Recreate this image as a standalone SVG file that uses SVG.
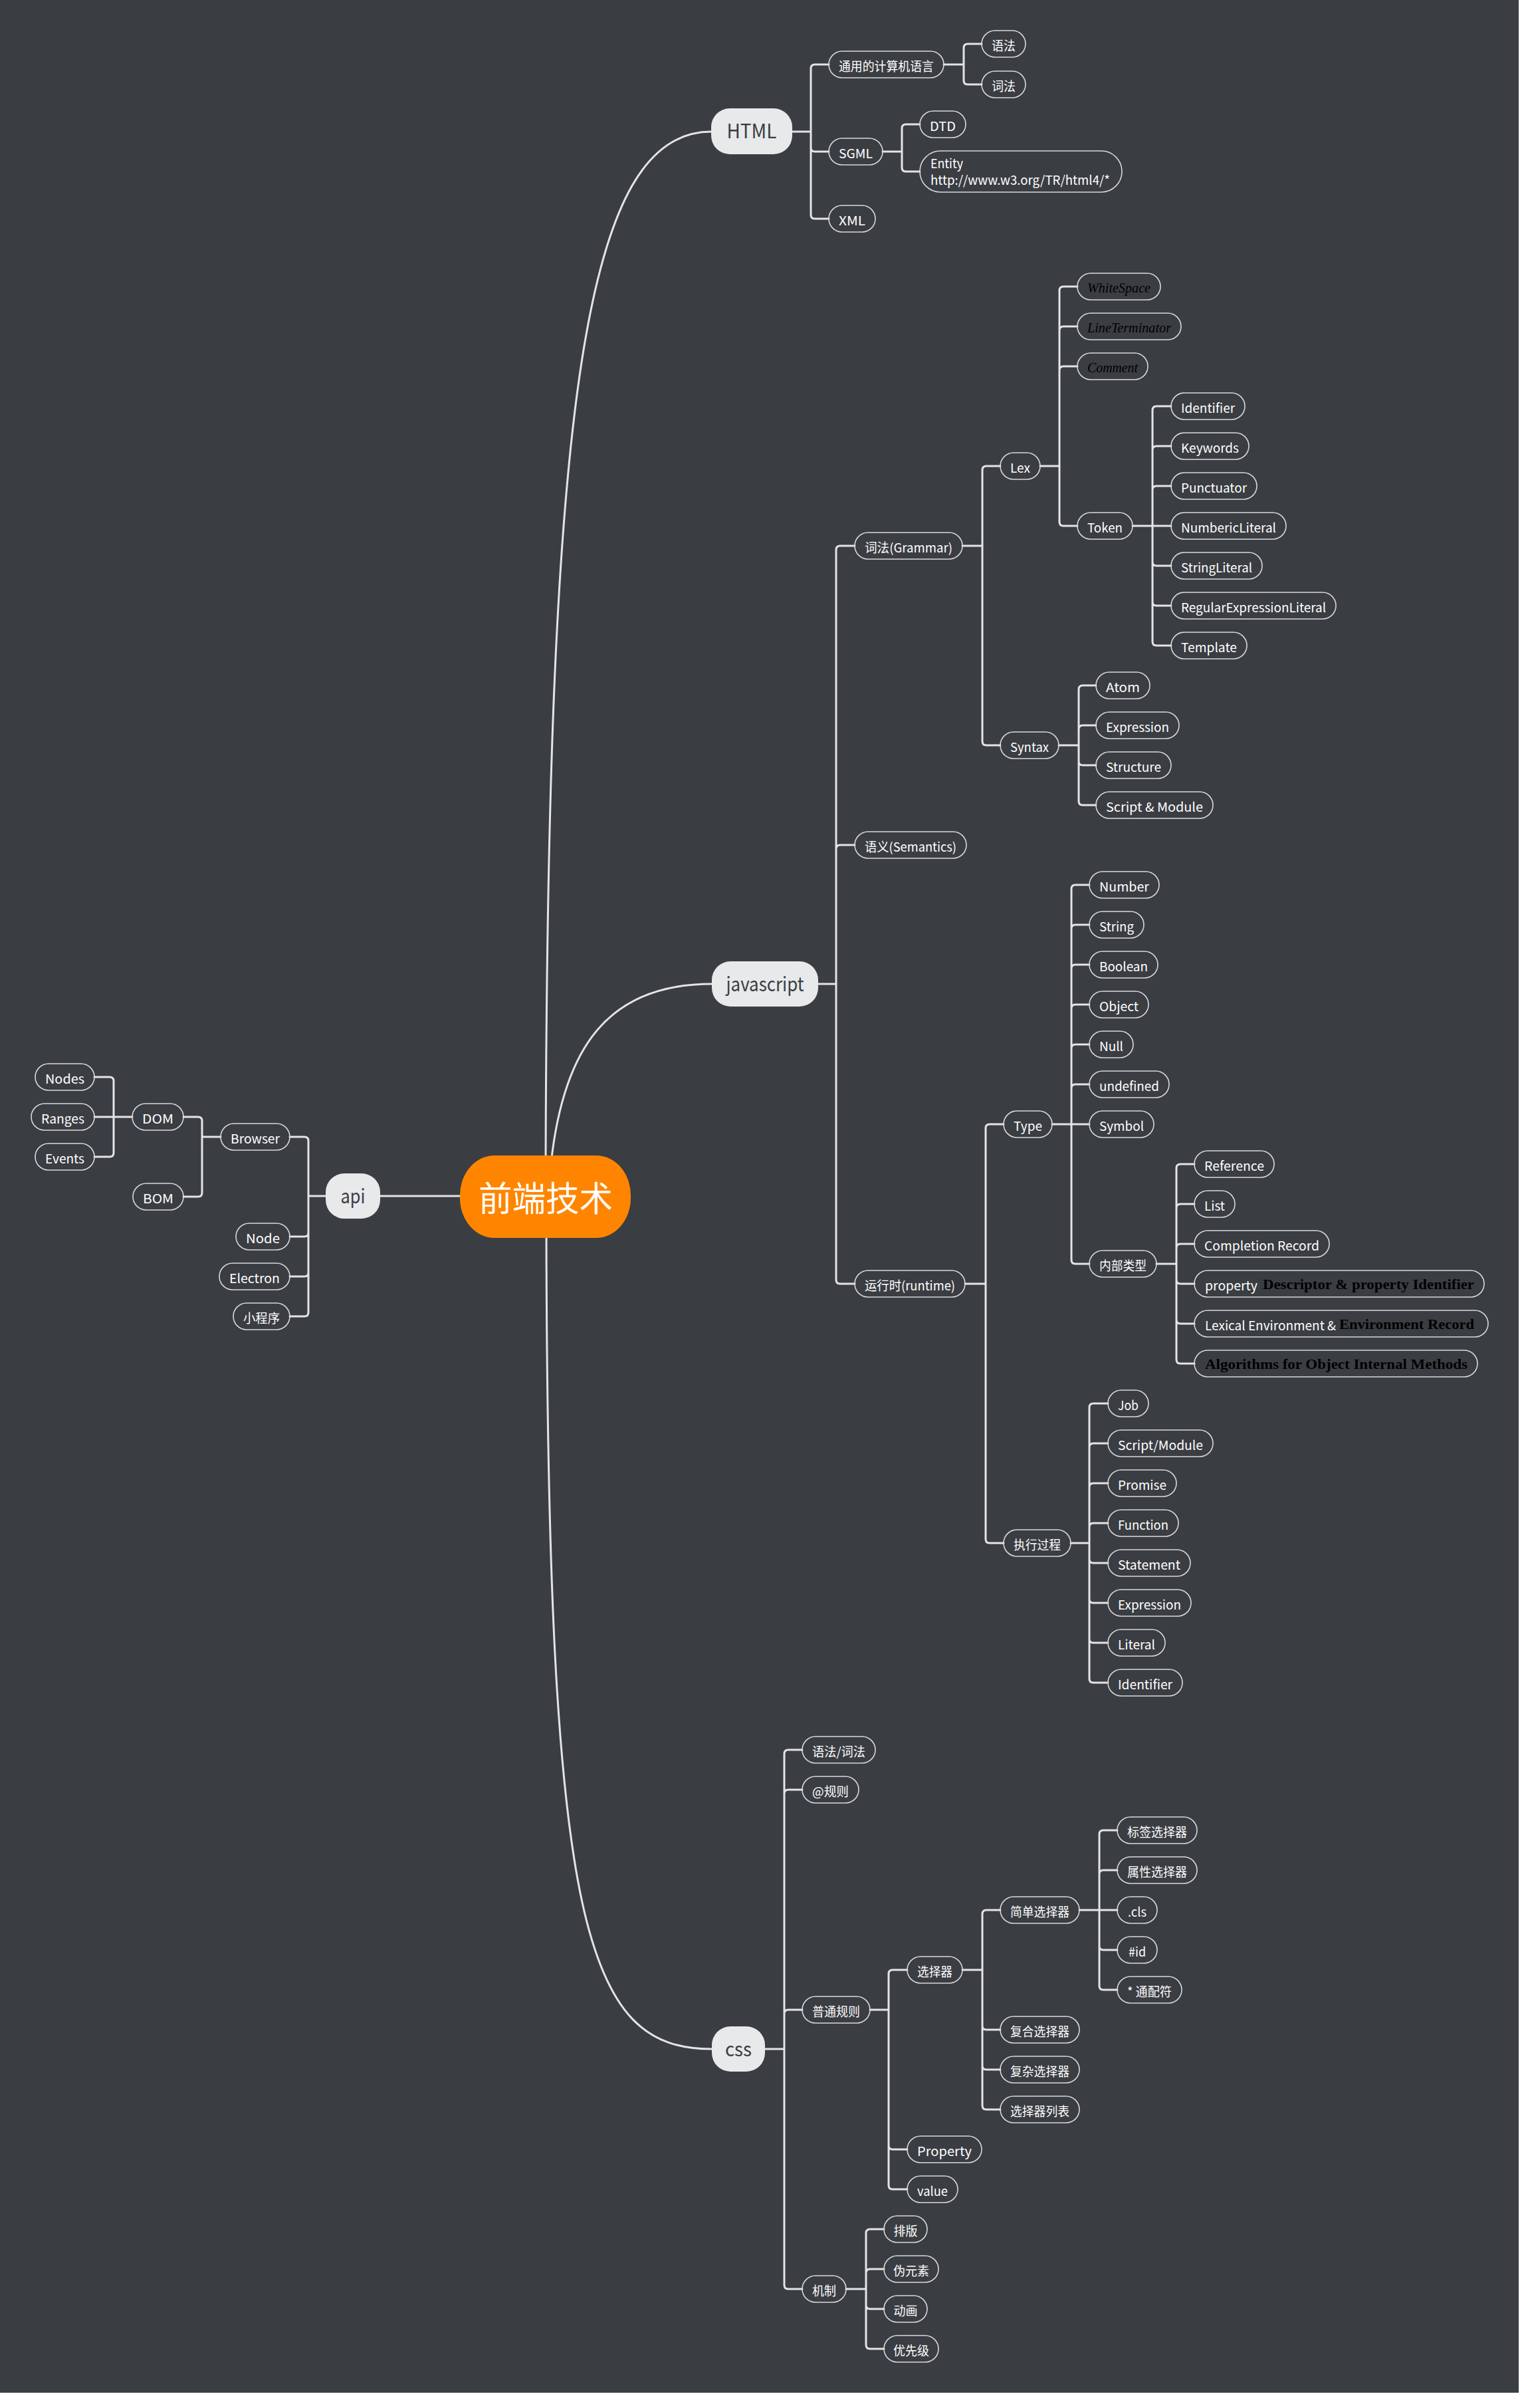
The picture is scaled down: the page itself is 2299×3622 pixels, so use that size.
<svg xmlns="http://www.w3.org/2000/svg" width="2299" height="3622" viewBox="0 0 2299 3622">
<style>
.nd{fill:none;stroke:#d8d9db;stroke-width:1.6}
.mn{fill:#e8e9eb}
.t{font-family:"Noto Sans CJK SC","Noto Sans",sans-serif;font-size:19px;fill:#ffffff;text-anchor:middle}
.ts{font-family:"Noto Sans CJK SC","Noto Sans",sans-serif;font-size:19px;fill:#ffffff}
.it{font-family:"Liberation Serif",serif;font-style:italic;font-size:20px;fill:#000000;text-anchor:middle}
.bs{font-family:"Liberation Serif",serif;font-weight:bold;font-size:22px;fill:#000000}
.mt{font-family:"Noto Sans CJK SC","Noto Sans",sans-serif;font-size:30px;fill:#3a3d42;text-anchor:middle}
.ct{font-family:"Noto Sans CJK SC",sans-serif;font-size:52px;fill:#ffffff;text-anchor:middle}
.ln{fill:none;stroke:#e3e4e5;stroke-width:3;stroke-linecap:round}
</style>
<rect x="0" y="0" width="2299" height="3622" fill="#ffffff"/>
<rect x="0" y="0" width="2285" height="3599" fill="#3a3d42"/>
<g id="connectors">
<path class="ln" d="M821 1750 C824 600 880 198 1070 198"/>
<path class="ln" d="M829 1750 C848 1575 915 1480 1071 1480"/>
<path class="ln" d="M822 1850 C824 2900 880 3082 1071 3082"/>
<path class="ln" d="M692 1799 H572"/>
<path class="ln" d="M1192 198 H1220 M1220 198 V103 Q1220 97 1226 97 H1247 M1220 198 V222 Q1220 228 1226 228 H1247 M1220 198 V323 Q1220 329 1226 329 H1247"/>
<path class="ln" d="M1420 97 H1450 M1450 97 V72 Q1450 66 1456 66 H1477 M1450 97 V121 Q1450 127 1456 127 H1477"/>
<path class="ln" d="M1328 228 H1357 M1357 228 V193 Q1357 187 1363 187 H1384 M1357 228 V252 Q1357 258 1363 258 H1384"/>
<path class="ln" d="M1231 1480 H1258 M1258 1480 V827 Q1258 821 1264 821 H1286 M1258 1480 V1277 Q1258 1271 1264 1271 H1286 M1258 1480 V1925 Q1258 1931 1264 1931 H1286"/>
<path class="ln" d="M1448 821 H1478 M1478 821 V707 Q1478 701 1484 701 H1505 M1478 821 V1115 Q1478 1121 1484 1121 H1505"/>
<path class="ln" d="M1565 701 H1594 M1594 701 V437 Q1594 431 1600 431 H1621 M1594 701 V497 Q1594 491 1600 491 H1621 M1594 701 V557 Q1594 551 1600 551 H1621 M1594 701 V785 Q1594 791 1600 791 H1621"/>
<path class="ln" d="M1704 791 H1762 M1734 791 V617 Q1734 611 1740 611 H1762 M1734 791 V677 Q1734 671 1740 671 H1762 M1734 791 V737 Q1734 731 1740 731 H1762 M1734 791 V845 Q1734 851 1740 851 H1762 M1734 791 V905 Q1734 911 1740 911 H1762 M1734 791 V965 Q1734 971 1740 971 H1762"/>
<path class="ln" d="M1593 1121 H1623 M1623 1121 V1037 Q1623 1031 1629 1031 H1649 M1623 1121 V1097 Q1623 1091 1629 1091 H1649 M1623 1121 V1145 Q1623 1151 1629 1151 H1649 M1623 1121 V1205 Q1623 1211 1629 1211 H1649"/>
<path class="ln" d="M1452 1931 H1483 M1483 1931 V1697 Q1483 1691 1489 1691 H1510 M1483 1931 V2315 Q1483 2321 1489 2321 H1510"/>
<path class="ln" d="M1583 1691 H1639 M1612 1691 V1337 Q1612 1331 1618 1331 H1639 M1612 1691 V1397 Q1612 1391 1618 1391 H1639 M1612 1691 V1457 Q1612 1451 1618 1451 H1639 M1612 1691 V1517 Q1612 1511 1618 1511 H1639 M1612 1691 V1577 Q1612 1571 1618 1571 H1639 M1612 1691 V1637 Q1612 1631 1618 1631 H1639 M1612 1691 V1895 Q1612 1901 1618 1901 H1639"/>
<path class="ln" d="M1740 1901 H1770 M1770 1901 V1757 Q1770 1751 1776 1751 H1797 M1770 1901 V1817 Q1770 1811 1776 1811 H1797 M1770 1901 V1877 Q1770 1871 1776 1871 H1797 M1770 1901 V1925 Q1770 1931 1776 1931 H1797 M1770 1901 V1985 Q1770 1991 1776 1991 H1797 M1770 1901 V2045 Q1770 2051 1776 2051 H1797"/>
<path class="ln" d="M1611 2321 H1639 M1639 2321 V2117 Q1639 2111 1645 2111 H1667 M1639 2321 V2177 Q1639 2171 1645 2171 H1667 M1639 2321 V2237 Q1639 2231 1645 2231 H1667 M1639 2321 V2297 Q1639 2291 1645 2291 H1667 M1639 2321 V2345 Q1639 2351 1645 2351 H1667 M1639 2321 V2405 Q1639 2411 1645 2411 H1667 M1639 2321 V2465 Q1639 2471 1645 2471 H1667 M1639 2321 V2525 Q1639 2531 1645 2531 H1667"/>
<path class="ln" d="M1151 3082 H1180 M1180 3082 V2638 Q1180 2632 1186 2632 H1207 M1180 3082 V2698 Q1180 2692 1186 2692 H1207 M1180 3082 V3029 Q1180 3023 1186 3023 H1207 M1180 3082 V3437 Q1180 3443 1186 3443 H1207"/>
<path class="ln" d="M1309 3023 H1337 M1337 3023 V2969 Q1337 2963 1343 2963 H1365 M1337 3023 V3227 Q1337 3233 1343 3233 H1365 M1337 3023 V3287 Q1337 3293 1343 3293 H1365"/>
<path class="ln" d="M1448 2963 H1478 M1478 2963 V2879 Q1478 2873 1484 2873 H1505 M1478 2963 V3047 Q1478 3053 1484 3053 H1505 M1478 2963 V3107 Q1478 3113 1484 3113 H1505 M1478 2963 V3167 Q1478 3173 1484 3173 H1505"/>
<path class="ln" d="M1624 2873 H1681 M1654 2873 V2759 Q1654 2753 1660 2753 H1681 M1654 2873 V2819 Q1654 2813 1660 2813 H1681 M1654 2873 V2927 Q1654 2933 1660 2933 H1681 M1654 2873 V2987 Q1654 2993 1660 2993 H1681"/>
<path class="ln" d="M1273 3443 H1303 M1303 3443 V3359 Q1303 3353 1309 3353 H1330 M1303 3443 V3419 Q1303 3413 1309 3413 H1330 M1303 3443 V3467 Q1303 3473 1309 3473 H1330 M1303 3443 V3527 Q1303 3533 1309 3533 H1330"/>
<path class="ln" d="M490 1799 H464 M464 1799 V1716 Q464 1710 458 1710 H436 M464 1799 V1854 Q464 1860 458 1860 H436 M464 1799 V1914 Q464 1920 458 1920 H436 M464 1799 V1974 Q464 1980 458 1980 H436"/>
<path class="ln" d="M332 1710 H304 M304 1710 V1686 Q304 1680 298 1680 H276 M304 1710 V1794 Q304 1800 298 1800 H276"/>
<path class="ln" d="M199 1680 H142 M171 1680 V1626 Q171 1620 165 1620 H142 M171 1680 V1734 Q171 1740 165 1740 H142"/>
</g>
<g id="n-root"><rect x="692" y="1738" width="257" height="124" rx="52" ry="60" fill="#ff8500"/><text class="ct" x="821" y="1822" textLength="202" lengthAdjust="spacingAndGlyphs">前端技术</text></g>
<g id="n-html"><rect class="mn" x="1070" y="163" width="122" height="69" rx="28"/><text class="mt" x="1131" y="208" textLength="75" lengthAdjust="spacingAndGlyphs">HTML</text></g>
<g id="n-tongyong"><rect class="nd" x="1247" y="77" width="173" height="40" rx="20"/><text class="t" x="1333.5" y="107" textLength="143" lengthAdjust="spacingAndGlyphs">通用的计算机语言</text></g>
<g id="n-yufa"><rect class="nd" x="1477" y="46" width="66" height="40" rx="20"/><text class="t" x="1510" y="76" textLength="36" lengthAdjust="spacingAndGlyphs">语法</text></g>
<g id="n-cifa"><rect class="nd" x="1477" y="107" width="66" height="40" rx="20"/><text class="t" x="1510" y="137" textLength="36" lengthAdjust="spacingAndGlyphs">词法</text></g>
<g id="n-sgml"><rect class="nd" x="1247" y="208" width="81" height="40" rx="20"/><text class="t" x="1287.5" y="238" textLength="51" lengthAdjust="spacingAndGlyphs">SGML</text></g>
<g id="n-dtd"><rect class="nd" x="1384" y="167" width="69" height="40" rx="20"/><text class="t" x="1418.5" y="197" textLength="39" lengthAdjust="spacingAndGlyphs">DTD</text></g>
<g id="n-entity"><rect class="nd" x="1384" y="227" width="304" height="62" rx="31"/><text class="ts" x="1400" y="253" textLength="49" lengthAdjust="spacingAndGlyphs">Entity</text><text class="ts" x="1400" y="278" textLength="270" lengthAdjust="spacingAndGlyphs">http://www.w3.org/TR/html4/*</text></g>
<g id="n-xml"><rect class="nd" x="1247" y="309" width="70" height="40" rx="20"/><text class="t" x="1282" y="339" textLength="40" lengthAdjust="spacingAndGlyphs">XML</text></g>
<g id="n-js"><rect class="mn" x="1071" y="1446" width="160" height="68" rx="28"/><text class="mt" x="1151" y="1491" textLength="117" lengthAdjust="spacingAndGlyphs">javascript</text></g>
<g id="n-grammar"><rect class="nd" x="1286" y="801" width="162" height="40" rx="20"/><text class="t" x="1367" y="831" textLength="132" lengthAdjust="spacingAndGlyphs">词法(Grammar)</text></g>
<g id="n-lex"><rect class="nd" x="1505" y="681" width="60" height="40" rx="20"/><text class="t" x="1535" y="711" textLength="30" lengthAdjust="spacingAndGlyphs">Lex</text></g>
<g id="n-whitespace"><rect class="nd" x="1621" y="411" width="125" height="40" rx="20"/><text class="it" x="1683.5" y="440" textLength="95" lengthAdjust="spacingAndGlyphs">WhiteSpace</text></g>
<g id="n-lineterminator"><rect class="nd" x="1621" y="471" width="156" height="40" rx="20"/><text class="it" x="1699" y="500" textLength="126" lengthAdjust="spacingAndGlyphs">LineTerminator</text></g>
<g id="n-comment"><rect class="nd" x="1621" y="531" width="106" height="40" rx="20"/><text class="it" x="1674" y="560" textLength="76" lengthAdjust="spacingAndGlyphs">Comment</text></g>
<g id="n-token"><rect class="nd" x="1621" y="771" width="83" height="40" rx="20"/><text class="t" x="1662.5" y="801" textLength="53" lengthAdjust="spacingAndGlyphs">Token</text></g>
<g id="n-identifier1"><rect class="nd" x="1762" y="591" width="111" height="40" rx="20"/><text class="t" x="1817.5" y="621" textLength="81" lengthAdjust="spacingAndGlyphs">Identifier</text></g>
<g id="n-keywords"><rect class="nd" x="1762" y="651" width="117" height="40" rx="20"/><text class="t" x="1820.5" y="681" textLength="87" lengthAdjust="spacingAndGlyphs">Keywords</text></g>
<g id="n-punctuator"><rect class="nd" x="1762" y="711" width="129" height="40" rx="20"/><text class="t" x="1826.5" y="741" textLength="99" lengthAdjust="spacingAndGlyphs">Punctuator</text></g>
<g id="n-numberic"><rect class="nd" x="1762" y="771" width="173" height="40" rx="20"/><text class="t" x="1848.5" y="801" textLength="143" lengthAdjust="spacingAndGlyphs">NumbericLiteral</text></g>
<g id="n-stringlit"><rect class="nd" x="1762" y="831" width="137" height="40" rx="20"/><text class="t" x="1830.5" y="861" textLength="107" lengthAdjust="spacingAndGlyphs">StringLiteral</text></g>
<g id="n-regexp"><rect class="nd" x="1762" y="891" width="248" height="40" rx="20"/><text class="t" x="1886" y="921" textLength="218" lengthAdjust="spacingAndGlyphs">RegularExpressionLiteral</text></g>
<g id="n-template"><rect class="nd" x="1762" y="951" width="114" height="40" rx="20"/><text class="t" x="1819" y="981" textLength="84" lengthAdjust="spacingAndGlyphs">Template</text></g>
<g id="n-syntax"><rect class="nd" x="1505" y="1101" width="88" height="40" rx="20"/><text class="t" x="1549" y="1131" textLength="58" lengthAdjust="spacingAndGlyphs">Syntax</text></g>
<g id="n-atom"><rect class="nd" x="1649" y="1011" width="81" height="40" rx="20"/><text class="t" x="1689.5" y="1041" textLength="51" lengthAdjust="spacingAndGlyphs">Atom</text></g>
<g id="n-expression1"><rect class="nd" x="1649" y="1071" width="125" height="40" rx="20"/><text class="t" x="1711.5" y="1101" textLength="95" lengthAdjust="spacingAndGlyphs">Expression</text></g>
<g id="n-structure"><rect class="nd" x="1649" y="1131" width="113" height="40" rx="20"/><text class="t" x="1705.5" y="1161" textLength="83" lengthAdjust="spacingAndGlyphs">Structure</text></g>
<g id="n-scriptmodule1"><rect class="nd" x="1649" y="1191" width="176" height="40" rx="20"/><text class="t" x="1737" y="1221" textLength="146" lengthAdjust="spacingAndGlyphs">Script &amp; Module</text></g>
<g id="n-semantics"><rect class="nd" x="1286" y="1251" width="168" height="40" rx="20"/><text class="t" x="1370" y="1281" textLength="138" lengthAdjust="spacingAndGlyphs">语义(Semantics)</text></g>
<g id="n-runtime"><rect class="nd" x="1286" y="1911" width="166" height="40" rx="20"/><text class="t" x="1369" y="1941" textLength="136" lengthAdjust="spacingAndGlyphs">运行时(runtime)</text></g>
<g id="n-type"><rect class="nd" x="1510" y="1671" width="73" height="40" rx="20"/><text class="t" x="1546.5" y="1701" textLength="43" lengthAdjust="spacingAndGlyphs">Type</text></g>
<g id="n-number"><rect class="nd" x="1639" y="1311" width="105" height="40" rx="20"/><text class="t" x="1691.5" y="1341" textLength="75" lengthAdjust="spacingAndGlyphs">Number</text></g>
<g id="n-string"><rect class="nd" x="1639" y="1371" width="82" height="40" rx="20"/><text class="t" x="1680" y="1401" textLength="52" lengthAdjust="spacingAndGlyphs">String</text></g>
<g id="n-boolean"><rect class="nd" x="1639" y="1431" width="103" height="40" rx="20"/><text class="t" x="1690.5" y="1461" textLength="73" lengthAdjust="spacingAndGlyphs">Boolean</text></g>
<g id="n-object"><rect class="nd" x="1639" y="1491" width="89" height="40" rx="20"/><text class="t" x="1683.5" y="1521" textLength="59" lengthAdjust="spacingAndGlyphs">Object</text></g>
<g id="n-null"><rect class="nd" x="1639" y="1551" width="66" height="40" rx="20"/><text class="t" x="1672" y="1581" textLength="36" lengthAdjust="spacingAndGlyphs">Null</text></g>
<g id="n-undefined"><rect class="nd" x="1639" y="1611" width="120" height="40" rx="20"/><text class="t" x="1699" y="1641" textLength="90" lengthAdjust="spacingAndGlyphs">undefined</text></g>
<g id="n-symbol"><rect class="nd" x="1639" y="1671" width="97" height="40" rx="20"/><text class="t" x="1687.5" y="1701" textLength="67" lengthAdjust="spacingAndGlyphs">Symbol</text></g>
<g id="n-internal"><rect class="nd" x="1639" y="1881" width="101" height="40" rx="20"/><text class="t" x="1689.5" y="1911" textLength="71" lengthAdjust="spacingAndGlyphs">内部类型</text></g>
<g id="n-reference"><rect class="nd" x="1797" y="1731" width="120" height="40" rx="20"/><text class="t" x="1857" y="1761" textLength="90" lengthAdjust="spacingAndGlyphs">Reference</text></g>
<g id="n-list"><rect class="nd" x="1797" y="1791" width="61" height="40" rx="20"/><text class="t" x="1827.5" y="1821" textLength="31" lengthAdjust="spacingAndGlyphs">List</text></g>
<g id="n-completion"><rect class="nd" x="1797" y="1851" width="203" height="40" rx="20"/><text class="t" x="1898.5" y="1881" textLength="173" lengthAdjust="spacingAndGlyphs">Completion Record</text></g>
<g id="n-propdesc"><rect class="nd" x="1797" y="1911" width="436" height="40" rx="20"/><text class="ts" x="1813" y="1941" textLength="79" lengthAdjust="spacingAndGlyphs">property</text><text class="bs" x="1900" y="1939" textLength="318" lengthAdjust="spacingAndGlyphs">Descriptor &amp; property Identifier</text></g>
<g id="n-lexenv"><rect class="nd" x="1797" y="1971" width="442" height="40" rx="20"/><text class="ts" x="1813" y="2001" textLength="197" lengthAdjust="spacingAndGlyphs">Lexical Environment &amp;</text><text class="bs" x="2015" y="1999" textLength="203" lengthAdjust="spacingAndGlyphs">Environment Record</text></g>
<g id="n-algorithms"><rect class="nd" x="1797" y="2031" width="426" height="40" rx="20"/><text class="bs" x="1813" y="2059" textLength="395" lengthAdjust="spacingAndGlyphs">Algorithms for Object Internal Methods</text></g>
<g id="n-exec"><rect class="nd" x="1510" y="2301" width="101" height="40" rx="20"/><text class="t" x="1560.5" y="2331" textLength="71" lengthAdjust="spacingAndGlyphs">执行过程</text></g>
<g id="n-job"><rect class="nd" x="1667" y="2091" width="61" height="40" rx="20"/><text class="t" x="1697.5" y="2121" textLength="31" lengthAdjust="spacingAndGlyphs">Job</text></g>
<g id="n-scriptmodule2"><rect class="nd" x="1667" y="2151" width="158" height="40" rx="20"/><text class="t" x="1746" y="2181" textLength="128" lengthAdjust="spacingAndGlyphs">Script/Module</text></g>
<g id="n-promise"><rect class="nd" x="1667" y="2211" width="103" height="40" rx="20"/><text class="t" x="1718.5" y="2241" textLength="73" lengthAdjust="spacingAndGlyphs">Promise</text></g>
<g id="n-function"><rect class="nd" x="1667" y="2271" width="106" height="40" rx="20"/><text class="t" x="1720" y="2301" textLength="76" lengthAdjust="spacingAndGlyphs">Function</text></g>
<g id="n-statement"><rect class="nd" x="1667" y="2331" width="124" height="40" rx="20"/><text class="t" x="1729" y="2361" textLength="94" lengthAdjust="spacingAndGlyphs">Statement</text></g>
<g id="n-expression2"><rect class="nd" x="1667" y="2391" width="125" height="40" rx="20"/><text class="t" x="1729.5" y="2421" textLength="95" lengthAdjust="spacingAndGlyphs">Expression</text></g>
<g id="n-literal"><rect class="nd" x="1667" y="2451" width="86" height="40" rx="20"/><text class="t" x="1710" y="2481" textLength="56" lengthAdjust="spacingAndGlyphs">Literal</text></g>
<g id="n-identifier2"><rect class="nd" x="1667" y="2511" width="112" height="40" rx="20"/><text class="t" x="1723" y="2541" textLength="82" lengthAdjust="spacingAndGlyphs">Identifier</text></g>
<g id="n-css"><rect class="mn" x="1071" y="3048" width="80" height="68" rx="28"/><text class="mt" x="1111" y="3093" textLength="40" lengthAdjust="spacingAndGlyphs">css</text></g>
<g id="n-cssyufa"><rect class="nd" x="1207" y="2612" width="110" height="40" rx="20"/><text class="t" x="1262" y="2642" textLength="80" lengthAdjust="spacingAndGlyphs">语法/词法</text></g>
<g id="n-atrule"><rect class="nd" x="1207" y="2672" width="85" height="40" rx="20"/><text class="t" x="1249.5" y="2702" textLength="55" lengthAdjust="spacingAndGlyphs">@规则</text></g>
<g id="n-normal"><rect class="nd" x="1207" y="3003" width="102" height="40" rx="20"/><text class="t" x="1258" y="3033" textLength="72" lengthAdjust="spacingAndGlyphs">普通规则</text></g>
<g id="n-selector"><rect class="nd" x="1365" y="2943" width="83" height="40" rx="20"/><text class="t" x="1406.5" y="2973" textLength="53" lengthAdjust="spacingAndGlyphs">选择器</text></g>
<g id="n-simple"><rect class="nd" x="1505" y="2853" width="119" height="40" rx="20"/><text class="t" x="1564.5" y="2883" textLength="89" lengthAdjust="spacingAndGlyphs">简单选择器</text></g>
<g id="n-tagsel"><rect class="nd" x="1681" y="2733" width="120" height="40" rx="20"/><text class="t" x="1741" y="2763" textLength="90" lengthAdjust="spacingAndGlyphs">标签选择器</text></g>
<g id="n-attrsel"><rect class="nd" x="1681" y="2793" width="120" height="40" rx="20"/><text class="t" x="1741" y="2823" textLength="90" lengthAdjust="spacingAndGlyphs">属性选择器</text></g>
<g id="n-cls"><rect class="nd" x="1681" y="2853" width="60" height="40" rx="20"/><text class="t" x="1711" y="2883" textLength="28" lengthAdjust="spacingAndGlyphs">.cls</text></g>
<g id="n-id"><rect class="nd" x="1681" y="2913" width="60" height="40" rx="20"/><text class="t" x="1711" y="2943" textLength="26" lengthAdjust="spacingAndGlyphs">#id</text></g>
<g id="n-wildcard"><rect class="nd" x="1681" y="2973" width="97" height="40" rx="20"/><text class="t" x="1729.5" y="3003" textLength="67" lengthAdjust="spacingAndGlyphs">* 通配符</text></g>
<g id="n-compound"><rect class="nd" x="1505" y="3033" width="119" height="40" rx="20"/><text class="t" x="1564.5" y="3063" textLength="89" lengthAdjust="spacingAndGlyphs">复合选择器</text></g>
<g id="n-complex"><rect class="nd" x="1505" y="3093" width="119" height="40" rx="20"/><text class="t" x="1564.5" y="3123" textLength="89" lengthAdjust="spacingAndGlyphs">复杂选择器</text></g>
<g id="n-sellist"><rect class="nd" x="1505" y="3153" width="119" height="40" rx="20"/><text class="t" x="1564.5" y="3183" textLength="89" lengthAdjust="spacingAndGlyphs">选择器列表</text></g>
<g id="n-property"><rect class="nd" x="1365" y="3213" width="112" height="40" rx="20"/><text class="t" x="1421" y="3243" textLength="82" lengthAdjust="spacingAndGlyphs">Property</text></g>
<g id="n-value"><rect class="nd" x="1365" y="3273" width="76" height="40" rx="20"/><text class="t" x="1403" y="3303" textLength="46" lengthAdjust="spacingAndGlyphs">value</text></g>
<g id="n-mech"><rect class="nd" x="1207" y="3423" width="66" height="40" rx="20"/><text class="t" x="1240" y="3453" textLength="36" lengthAdjust="spacingAndGlyphs">机制</text></g>
<g id="n-layout"><rect class="nd" x="1330" y="3333" width="65" height="40" rx="20"/><text class="t" x="1362.5" y="3363" textLength="36" lengthAdjust="spacingAndGlyphs">排版</text></g>
<g id="n-pseudo"><rect class="nd" x="1330" y="3393" width="82" height="40" rx="20"/><text class="t" x="1371" y="3423" textLength="54" lengthAdjust="spacingAndGlyphs">伪元素</text></g>
<g id="n-anim"><rect class="nd" x="1330" y="3453" width="65" height="40" rx="20"/><text class="t" x="1362.5" y="3483" textLength="36" lengthAdjust="spacingAndGlyphs">动画</text></g>
<g id="n-priority"><rect class="nd" x="1330" y="3513" width="82" height="40" rx="20"/><text class="t" x="1371" y="3543" textLength="54" lengthAdjust="spacingAndGlyphs">优先级</text></g>
<g id="n-api"><rect class="mn" x="490" y="1765" width="82" height="68" rx="28"/><text class="mt" x="531" y="1810" textLength="37" lengthAdjust="spacingAndGlyphs">api</text></g>
<g id="n-browser"><rect class="nd" x="332" y="1690" width="104" height="40" rx="20"/><text class="t" x="384" y="1720" textLength="74" lengthAdjust="spacingAndGlyphs">Browser</text></g>
<g id="n-dom"><rect class="nd" x="199" y="1660" width="77" height="40" rx="20"/><text class="t" x="237.5" y="1690" textLength="47" lengthAdjust="spacingAndGlyphs">DOM</text></g>
<g id="n-nodes"><rect class="nd" x="53" y="1600" width="89" height="40" rx="20"/><text class="t" x="97.5" y="1630" textLength="59" lengthAdjust="spacingAndGlyphs">Nodes</text></g>
<g id="n-ranges"><rect class="nd" x="47" y="1660" width="95" height="40" rx="20"/><text class="t" x="94.5" y="1690" textLength="65" lengthAdjust="spacingAndGlyphs">Ranges</text></g>
<g id="n-events"><rect class="nd" x="53" y="1720" width="89" height="40" rx="20"/><text class="t" x="97.5" y="1750" textLength="59" lengthAdjust="spacingAndGlyphs">Events</text></g>
<g id="n-bom"><rect class="nd" x="200" y="1780" width="76" height="40" rx="20"/><text class="t" x="238" y="1810" textLength="46" lengthAdjust="spacingAndGlyphs">BOM</text></g>
<g id="n-node"><rect class="nd" x="355" y="1840" width="81" height="40" rx="20"/><text class="t" x="395.5" y="1870" textLength="51" lengthAdjust="spacingAndGlyphs">Node</text></g>
<g id="n-electron"><rect class="nd" x="330" y="1900" width="106" height="40" rx="20"/><text class="t" x="383" y="1930" textLength="76" lengthAdjust="spacingAndGlyphs">Electron</text></g>
<g id="n-miniprogram"><rect class="nd" x="351" y="1960" width="85" height="40" rx="20"/><text class="t" x="393.5" y="1990" textLength="55" lengthAdjust="spacingAndGlyphs">小程序</text></g>
</svg>
